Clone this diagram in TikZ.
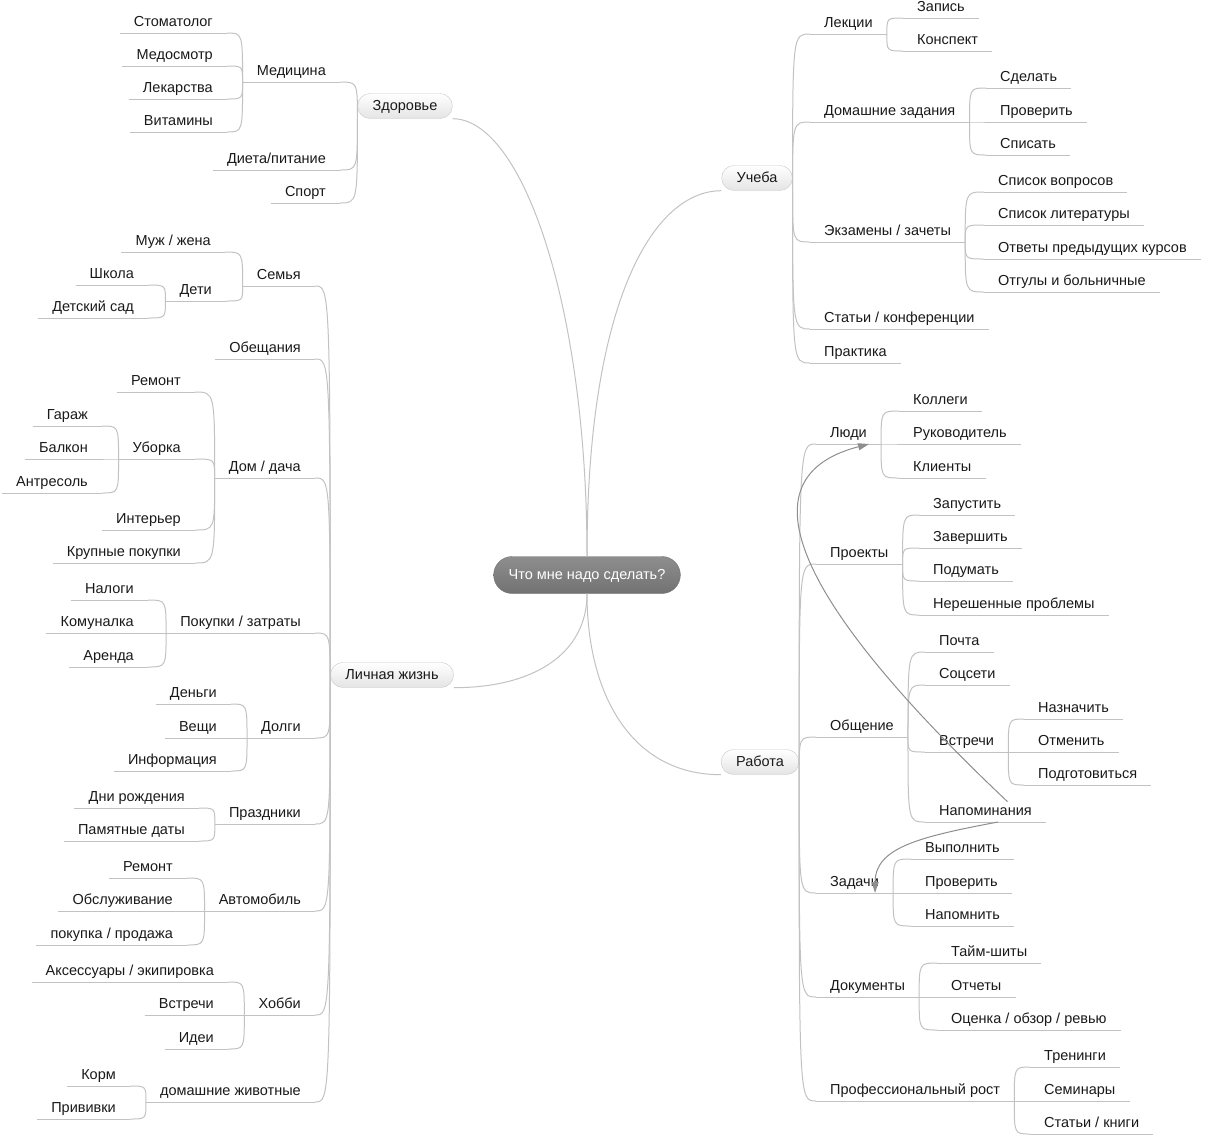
\documentclass[tikz,border=0pt]{standalone}
\usepackage{fontspec}
\setmainfont{Liberation Sans}
\usetikzlibrary{arrows.meta}
\definecolor{linegray}{HTML}{C2C2C2}
\definecolor{relgray}{HTML}{8E8E8E}
\definecolor{boxline}{HTML}{C8C8C8}
\definecolor{boxbot}{HTML}{E4E4E4}
\definecolor{rootline}{HTML}{6E6E6E}
\definecolor{roottop}{HTML}{8E8E8E}
\definecolor{rootbot}{HTML}{727272}
\newcommand{\mapfont}{\fontsize{14.5}{17}\selectfont}

\tikzset{
  uline/.style={draw=linegray, line width=1pt},
  leaf/.style={font=\mapfont, text=black!90, inner xsep=14pt, inner ysep=3pt,
    text height=11pt, text depth=3pt,
    append after command={(\tikzlastnode.south west) edge[uline] (\tikzlastnode.south east)}},
  leafl/.style={leaf, anchor=south east},
  leafr/.style={leaf, anchor=south west},
  topic/.style={font=\mapfont, text=black!90, draw=boxline, top color=white, bottom color=boxbot,
    rounded corners=12.5pt, minimum height=25pt, inner xsep=15pt, inner ysep=0pt,
    text height=11pt, text depth=3pt},
  root/.style={font=\mapfont, text=white, draw=rootline, top color=roottop, bottom color=rootbot,
    rounded corners=18.5pt, minimum height=37pt, inner xsep=15pt,
    text height=11pt, text depth=3pt},
  branch/.style={uline, to path={.. controls (\tikztostart |- \tikztotarget) .. (\tikztotarget)}},
  rel/.style={draw=relgray, line width=1pt, -{Triangle[length=11pt,width=7pt]}},
}

\begin{document}
\begin{tikzpicture}[x=1pt,y=-1pt]
\useasboundingbox (0,0) rectangle (1205,1136);

% main topics
\node[root] (root) at (587,575) {Что мне надо сделать?};
\node[topic] (zdor) at (405,106) {Здоровье};
\node[topic] (lich) at (392,675) {Личная жизнь};
\node[topic] (ucheba) at (757,178) {Учеба};
\node[topic] (rabota) at (760,762) {Работа};

\draw[uline] (zdor.south east) .. controls +(70,0) and +(0,-250) .. (root.north);
\draw[uline] (ucheba.south west) .. controls +(-70,0) and +(0,-250) .. (root.north);
\draw[uline] (lich.south east) .. controls +(80,0) and +(0,60) .. (root.south);
\draw[uline] (rabota.south west) .. controls +(-90,0) and +(0,100) .. (root.south);

% Здоровье
\node[leafl] (med) at (340,82) {Медицина};
\node[leafl] (stom) at (227,33) {Стоматолог};
\node[leafl] (medos) at (227,66) {Медосмотр};
\node[leafl] (lek) at (227,99) {Лекарства};
\node[leafl] (vit) at (227,132) {Витамины};
\node[leafl] (diet) at (340,170) {Диета/питание};
\node[leafl] (sport) at (340,203) {Спорт};
\draw[branch] (zdor.south west) to (med.south east);
\draw[branch] (zdor.south west) to (diet.south east);
\draw[branch] (zdor.south west) to (sport.south east);
\draw[branch] (med.south west) to (stom.south east);
\draw[branch] (med.south west) to (medos.south east);
\draw[branch] (med.south west) to (lek.south east);
\draw[branch] (med.south west) to (vit.south east);

% Личная жизнь
\node[leafl] (semya) at (315,286) {Семья};
\node[leafl] (muzh) at (225,252) {Муж / жена};
\node[leafl] (deti) at (226,301) {Дети};
\node[leafl] (shkola) at (148,285) {Школа};
\node[leafl] (sad) at (148,318) {Детский сад};
\node[leafl] (obesch) at (315,359) {Обещания};
\node[leafl] (dom) at (315,478) {Дом / дача};
\node[leafl] (remont) at (195,392) {Ремонт};
\node[leafl] (uborka) at (195,459) {Уборка};
\node[leafl] (garazh) at (102,426) {Гараж};
\node[leafl] (balkon) at (102,459) {Балкон};
\node[leafl] (antr) at (102,493) {Антресоль};
\node[leafl] (inter) at (195,530) {Интерьер};
\node[leafl] (krup) at (195,563) {Крупные покупки};
\node[leafl] (pokup) at (315,633) {Покупки / затраты};
\node[leafl] (nalogi) at (148,600) {Налоги};
\node[leafl] (komun) at (148,633) {Комуналка};
\node[leafl] (arenda) at (148,667) {Аренда};
\node[leafl] (dolgi) at (315,738) {Долги};
\node[leafl] (dengi) at (231,704) {Деньги};
\node[leafl] (veschi) at (231,738) {Вещи};
\node[leafl] (info) at (231,771) {Информация};
\node[leafl] (prazd) at (315,824) {Праздники};
\node[leafl] (dni) at (199,808) {Дни рождения};
\node[leafl] (pamyat) at (199,841) {Памятные даты};
\node[leafl] (avto) at (315,911) {Автомобиль};
\node[leafl] (aremont) at (187,878) {Ремонт};
\node[leafl] (obsl) at (187,911) {Обслуживание};
\node[leafl] (kuplya) at (187,945) {покупка / продажа};
\node[leafl] (hobbi) at (315,1015) {Хобби};
\node[leafl] (aks) at (228,982) {Аксессуары / экипировка};
\node[leafl] (hvstr) at (228,1015) {Встречи};
\node[leafl] (idei) at (228,1049) {Идеи};
\node[leafl] (zhiv) at (315,1102) {домашние животные};
\node[leafl] (korm) at (130,1086) {Корм};
\node[leafl] (priv) at (130,1119) {Прививки};
\draw[branch] (lich.south west) to (semya.south east);
\draw[branch] (lich.south west) to (obesch.south east);
\draw[branch] (lich.south west) to (dom.south east);
\draw[branch] (lich.south west) to (pokup.south east);
\draw[branch] (lich.south west) to (dolgi.south east);
\draw[branch] (lich.south west) to (prazd.south east);
\draw[branch] (lich.south west) to (avto.south east);
\draw[branch] (lich.south west) to (hobbi.south east);
\draw[branch] (lich.south west) to (zhiv.south east);
\draw[branch] (semya.south west) to (muzh.south east);
\draw[branch] (semya.south west) to (deti.south east);
\draw[branch] (deti.south west) to (shkola.south east);
\draw[branch] (deti.south west) to (sad.south east);
\draw[branch] (dom.south west) to (remont.south east);
\draw[branch] (dom.south west) to (uborka.south east);
\draw[branch] (dom.south west) to (inter.south east);
\draw[branch] (dom.south west) to (krup.south east);
\draw[branch] (uborka.south west) to (garazh.south east);
\draw[branch] (uborka.south west) to (balkon.south east);
\draw[branch] (uborka.south west) to (antr.south east);
\draw[branch] (pokup.south west) to (nalogi.south east);
\draw[branch] (pokup.south west) to (komun.south east);
\draw[branch] (pokup.south west) to (arenda.south east);
\draw[branch] (dolgi.south west) to (dengi.south east);
\draw[branch] (dolgi.south west) to (veschi.south east);
\draw[branch] (dolgi.south west) to (info.south east);
\draw[branch] (prazd.south west) to (dni.south east);
\draw[branch] (prazd.south west) to (pamyat.south east);
\draw[branch] (avto.south west) to (aremont.south east);
\draw[branch] (avto.south west) to (obsl.south east);
\draw[branch] (avto.south west) to (kuplya.south east);
\draw[branch] (hobbi.south west) to (aks.south east);
\draw[branch] (hobbi.south west) to (hvstr.south east);
\draw[branch] (hobbi.south west) to (idei.south east);
\draw[branch] (zhiv.south west) to (korm.south east);
\draw[branch] (zhiv.south west) to (priv.south east);

% Учеба
\node[leafr] (lekcii) at (810,34) {Лекции};
\node[leafr] (zapis) at (903,18) {Запись};
\node[leafr] (konsp) at (903,51) {Конспект};
\node[leafr] (dz) at (810,122) {Домашние задания};
\node[leafr] (sdelat) at (986,88) {Сделать};
\node[leafr] (proverit) at (986,122) {Проверить};
\node[leafr] (spisat) at (986,155) {Списать};
\node[leafr] (ekz) at (810,242) {Экзамены / зачеты};
\node[leafr] (voprosy) at (984,192) {Список вопросов};
\node[leafr] (lit) at (984,225) {Список литературы};
\node[leafr] (otvety) at (984,259) {Ответы предыдущих курсов};
\node[leafr] (otguly) at (984,292) {Отгулы и больничные};
\node[leafr] (stati) at (810,329) {Статьи / конференции};
\node[leafr] (praktika) at (810,363) {Практика};
\draw[branch] (ucheba.south east) to (lekcii.south west);
\draw[branch] (ucheba.south east) to (dz.south west);
\draw[branch] (ucheba.south east) to (ekz.south west);
\draw[branch] (ucheba.south east) to (stati.south west);
\draw[branch] (ucheba.south east) to (praktika.south west);
\draw[branch] (lekcii.south east) to (zapis.south west);
\draw[branch] (lekcii.south east) to (konsp.south west);
\draw[branch] (dz.south east) to (sdelat.south west);
\draw[branch] (dz.south east) to (proverit.south west);
\draw[branch] (dz.south east) to (spisat.south west);
\draw[branch] (ekz.south east) to (voprosy.south west);
\draw[branch] (ekz.south east) to (lit.south west);
\draw[branch] (ekz.south east) to (otvety.south west);
\draw[branch] (ekz.south east) to (otguly.south west);

% Работа
\node[leafr] (ludi) at (816,444) {Люди};
\node[leafr] (kollegi) at (899,411) {Коллеги};
\node[leafr] (ruk) at (899,444) {Руководитель};
\node[leafr] (klienty) at (899,478) {Клиенты};
\node[leafr] (proekty) at (816,564) {Проекты};
\node[leafr] (zapust) at (919,515) {Запустить};
\node[leafr] (zaversh) at (919,548) {Завершить};
\node[leafr] (podum) at (919,581) {Подумать};
\node[leafr] (nereshen) at (919,615) {Нерешенные проблемы};
\node[leafr] (obsch) at (816,737) {Общение};
\node[leafr] (pochta) at (925,652) {Почта};
\node[leafr] (socseti) at (925,685) {Соцсети};
\node[leafr] (vstrechi) at (925,752) {Встречи};
\node[leafr] (naznach) at (1024,719) {Назначить};
\node[leafr] (otmen) at (1024,752) {Отменить};
\node[leafr] (podgot) at (1024,785) {Подготовиться};
\node[leafr] (nap) at (925,822) {Напоминания};
\node[leafr] (zad) at (816,893) {Задачи};
\node[leafr] (vypoln) at (911,859) {Выполнить};
\node[leafr] (zproverit) at (911,893) {Проверить};
\node[leafr] (napomn) at (911,926) {Напомнить};
\node[leafr] (dok) at (816,997) {Документы};
\node[leafr] (tajm) at (937,963) {Тайм-шиты};
\node[leafr] (otchety) at (937,997) {Отчеты};
\node[leafr] (ocenka) at (937,1030) {Оценка / обзор / ревью};
\node[leafr] (prof) at (816,1101) {Профессиональный рост};
\node[leafr] (treningi) at (1030,1067) {Тренинги};
\node[leafr] (seminary) at (1030,1101) {Семинары};
\node[leafr] (knigi) at (1030,1134) {Статьи / книги};
\draw[branch] (rabota.south east) to (ludi.south west);
\draw[branch] (rabota.south east) to (proekty.south west);
\draw[branch] (rabota.south east) to (obsch.south west);
\draw[branch] (rabota.south east) to (zad.south west);
\draw[branch] (rabota.south east) to (dok.south west);
\draw[branch] (rabota.south east) to (prof.south west);
\draw[branch] (ludi.south east) to (kollegi.south west);
\draw[branch] (ludi.south east) to (ruk.south west);
\draw[branch] (ludi.south east) to (klienty.south west);
\draw[branch] (proekty.south east) to (zapust.south west);
\draw[branch] (proekty.south east) to (zaversh.south west);
\draw[branch] (proekty.south east) to (podum.south west);
\draw[branch] (proekty.south east) to (nereshen.south west);
\draw[branch] (obsch.south east) to (pochta.south west);
\draw[branch] (obsch.south east) to (socseti.south west);
\draw[branch] (obsch.south east) to (vstrechi.south west);
\draw[branch] (obsch.south east) to (nap.south west);
\draw[branch] (vstrechi.south east) to (naznach.south west);
\draw[branch] (vstrechi.south east) to (otmen.south west);
\draw[branch] (vstrechi.south east) to (podgot.south west);
\draw[branch] (zad.south east) to (vypoln.south west);
\draw[branch] (zad.south east) to (zproverit.south west);
\draw[branch] (zad.south east) to (napomn.south west);
\draw[branch] (dok.south east) to (tajm.south west);
\draw[branch] (dok.south east) to (otchety.south west);
\draw[branch] (dok.south east) to (ocenka.south west);
\draw[branch] (prof.south east) to (treningi.south west);
\draw[branch] (prof.south east) to (seminary.south west);
\draw[branch] (prof.south east) to (knigi.south west);

% relations
\draw[rel] ([xshift=22pt]nap.north) .. controls (815,620) and (730,480) .. ([xshift=-12pt]ludi.south east);
\draw[rel] ([xshift=-48pt]nap.south east) .. controls +(-80,15) and +(0,-45) .. ([xshift=-18pt]zad.south east);
\end{tikzpicture}
\end{document}
